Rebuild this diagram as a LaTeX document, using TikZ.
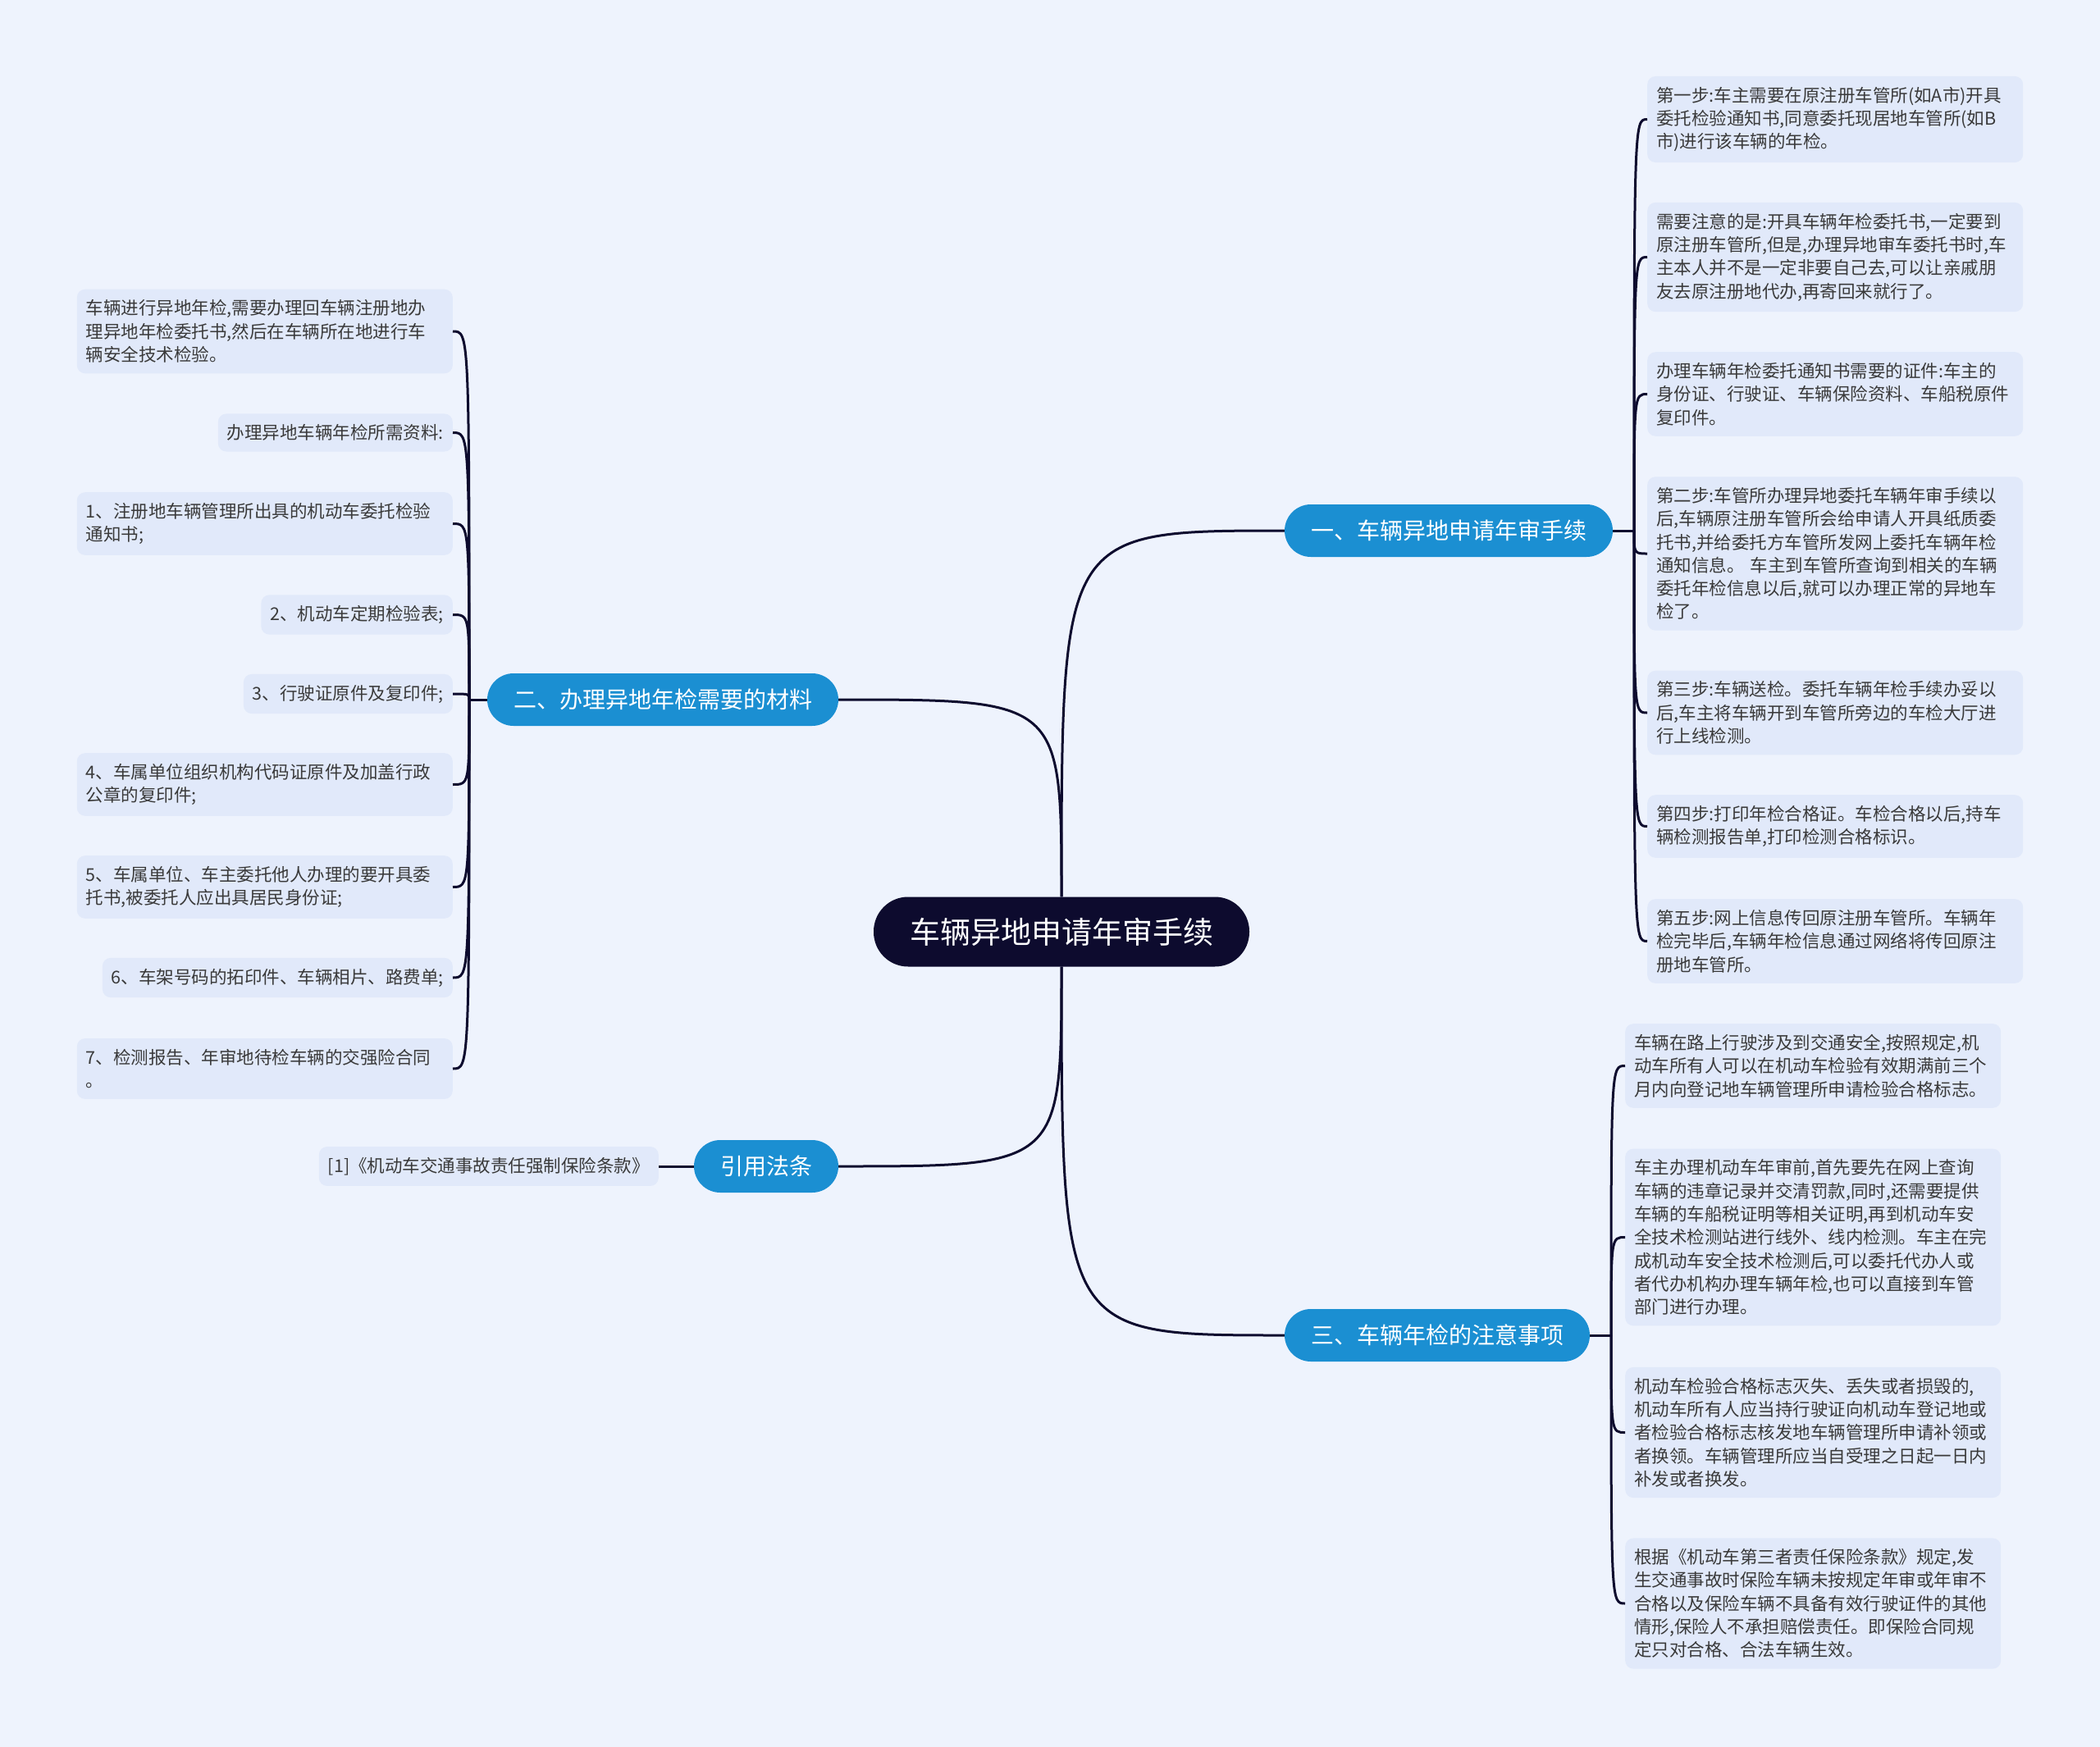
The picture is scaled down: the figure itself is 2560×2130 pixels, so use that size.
\documentclass[tikz,border=0pt]{standalone}
\usepackage{fontspec}
\setmainfont{Noto Sans CJK SC}
\usetikzlibrary{calc}
\definecolor{SBack}{HTML}{EEF3FD}
\definecolor{SLeaf}{HTML}{E1E9FA}
\definecolor{SBlue}{HTML}{1B8FD2}
\definecolor{SNavy}{HTML}{0D0B2E}
\definecolor{SText}{HTML}{3A3A3A}

\begin{document}
\begin{tikzpicture}[x=1pt,y=-1pt,
  hub/.style={fill=SNavy,text=white,rounded corners=42pt,minimum height=85pt,inner xsep=44pt,font=\fontsize{37pt}{44pt}\selectfont},
  topic/.style={fill=SBlue,text=white,rounded corners=32pt,minimum height=64pt,inner xsep=32pt,font=\fontsize{28pt}{34pt}\selectfont},
  leaf/.style={fill=SLeaf,text=SText,rounded corners=10pt,inner xsep=11pt,inner ysep=13pt,align=left,font=\fontsize{21.5pt}{28.3pt}\selectfont},
  wide/.style={leaf,text width=436pt},
  wire/.style={draw=SNavy,line width=3pt}
]
\fill[SBack] (0,0) rectangle (2560,2130);
\useasboundingbox (0,0) rectangle (2560,2130);

% centre and main topics
\node[hub] (root) at (1294,1136) {车辆异地申请年审手续};
\node[topic] (b1) at (1766,647) {一、车辆异地申请年审手续};
\node[topic] (b2) at (808,853) {二、办理异地年检需要的材料};
\node[topic] (b3) at (1752,1628) {三、车辆年检的注意事项};
\node[topic] (b4) at (934,1422) {引用法条};

\draw[wire] (root.north) .. controls (root.north |- b1.west) .. (b1.west);
\draw[wire] (root.north) .. controls (root.north |- b2.east) .. (b2.east);
\draw[wire] (root.south) .. controls (root.south |- b3.west) .. (b3.west);
\draw[wire] (root.south) .. controls (root.south |- b4.east) .. (b4.east);

% branch 1
\coordinate (j1) at (1992,647);
\node[wide,anchor=west] (l1) at (2008,145.5) {第一步:车主需要在原注册车管所(如A市)开具\\委托检验通知书,同意委托现居地车管所(如B\\市)进行该车辆的年检。};
\node[wide,anchor=west] (l2) at (2008,313.5) {需要注意的是:开具车辆年检委托书,一定要到\\原注册车管所,但是,办理异地审车委托书时,车\\主本人并不是一定非要自己去,可以让亲戚朋\\友去原注册地代办,再寄回来就行了。};
\node[wide,anchor=west] (l3) at (2008,480.5) {办理车辆年检委托通知书需要的证件:车主的\\身份证、行驶证、车辆保险资料、车船税原件\\复印件。};
\node[wide,anchor=west] (l4) at (2008,675) {第二步:车管所办理异地委托车辆年审手续以\\后,车辆原注册车管所会给申请人开具纸质委\\托书,并给委托方车管所发网上委托车辆年检\\通知信息。~车主到车管所查询到相关的车辆\\委托年检信息以后,就可以办理正常的异地车\\检了。};
\node[wide,anchor=west] (l5) at (2008,869) {第三步:车辆送检。委托车辆年检手续办妥以\\后,车主将车辆开到车管所旁边的车检大厅进\\行上线检测。};
\node[wide,anchor=west] (l6) at (2008,1007.5) {第四步:打印年检合格证。车检合格以后,持车\\辆检测报告单,打印检测合格标识。};
\node[wide,anchor=west] (l7) at (2008,1147.5) {第五步:网上信息传回原注册车管所。车辆年\\检完毕后,车辆年检信息通过网络将传回原注\\册地车管所。};
\draw[wire] (b1.east) -- (j1);
\foreach \n in {l1,l2,l3,l4,l5,l6,l7}
  \draw[wire] (j1) .. controls (j1 |- \n.west) .. (\n.west);

% branch 2
\coordinate (j2) at (572,853);
\node[wide,anchor=east] (m1) at (552,404) {车辆进行异地年检,需要办理回车辆注册地办\\理异地年检委托书,然后在车辆所在地进行车\\辆安全技术检验。};
\node[leaf,anchor=east] (m2) at (552,527.5) {办理异地车辆年检所需资料:};
\node[wide,anchor=east] (m3) at (552,638.5) {1、注册地车辆管理所出具的机动车委托检验\\通知书;};
\node[leaf,anchor=east] (m4) at (552,749.5) {2、机动车定期检验表;};
\node[leaf,anchor=east] (m5) at (552,846) {3、行驶证原件及复印件;};
\node[wide,anchor=east] (m6) at (552,956.5) {4、车属单位组织机构代码证原件及加盖行政\\公章的复印件;};
\node[wide,anchor=east] (m7) at (552,1081.5) {5、车属单位、车主委托他人办理的要开具委\\托书,被委托人应出具居民身份证;};
\node[leaf,anchor=east] (m8) at (552,1192) {6、车架号码的拓印件、车辆相片、路费单;};
\node[wide,anchor=east] (m9) at (552,1303) {7、检测报告、年审地待检车辆的交强险合同\\。};
\draw[wire] (b2.west) -- (j2);
\foreach \n in {m1,m2,m3,m4,m5,m6,m7,m8,m9}
  \draw[wire] (j2) .. controls (j2 |- \n.east) .. (\n.east);

% branch 3
\coordinate (j3) at (1964,1628);
\node[wide,anchor=west] (n1) at (1981,1299.5) {车辆在路上行驶涉及到交通安全,按照规定,机\\动车所有人可以在机动车检验有效期满前三个\\月内向登记地车辆管理所申请检验合格标志。};
\node[wide,anchor=west] (n2) at (1981,1508.5) {车主办理机动车年审前,首先要先在网上查询\\车辆的违章记录并交清罚款,同时,还需要提供\\车辆的车船税证明等相关证明,再到机动车安\\全技术检测站进行线外、线内检测。车主在完\\成机动车安全技术检测后,可以委托代办人或\\者代办机构办理车辆年检,也可以直接到车管\\部门进行办理。};
\node[wide,anchor=west] (n3) at (1981,1746.5) {机动车检验合格标志灭失、丢失或者损毁的,\\机动车所有人应当持行驶证向机动车登记地或\\者检验合格标志核发地车辆管理所申请补领或\\者换领。车辆管理所应当自受理之日起一日内\\补发或者换发。};
\node[wide,anchor=west] (n4) at (1981,1955) {根据《机动车第三者责任保险条款》规定,发\\生交通事故时保险车辆未按规定年审或年审不\\合格以及保险车辆不具备有效行驶证件的其他\\情形,保险人不承担赔偿责任。即保险合同规\\定只对合格、合法车辆生效。};
\draw[wire] (b3.east) -- (j3);
\foreach \n in {n1,n2,n3,n4}
  \draw[wire] (j3) .. controls (j3 |- \n.west) .. (\n.west);

% branch 4
\node[leaf,anchor=east] (r1) at (803,1422) {[1]《机动车交通事故责任强制保险条款》};
\draw[wire] (b4.west) -- (r1.east);
\end{tikzpicture}
\end{document}
